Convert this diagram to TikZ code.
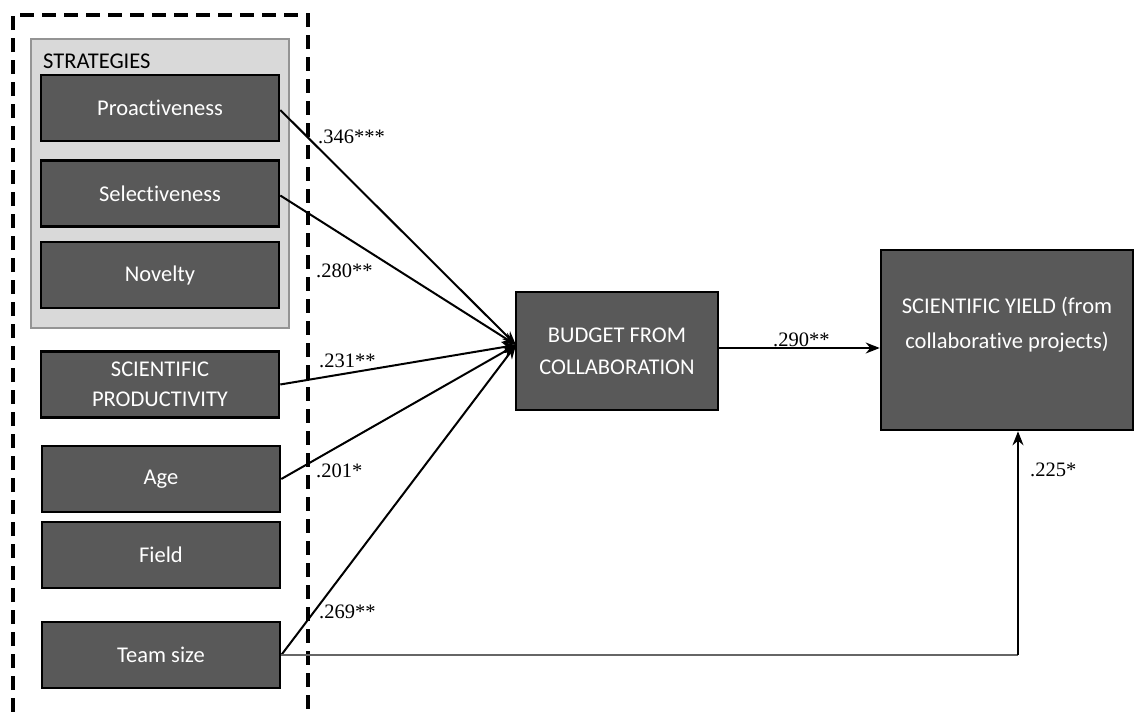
\documentclass[tikz,border=0pt]{standalone}
\usepackage{fontspec}
\setmainfont{Carlito}[Ligatures=NoCommon]
\newfontfamily\labfont{Liberation Serif}
\usetikzlibrary{arrows.meta}
\begin{document}
\begin{tikzpicture}[x=1pt,y=-1pt,
  varbox/.style={draw=black, line width=2.6pt, fill=boxgray, text=white, font=\fontsize{22.5}{32}\selectfont, align=center, inner sep=0pt, minimum width=#1, minimum height=66pt},
  varbox/.default=238pt,
  coef/.style={font=\labfont\fontsize{20.5}{22}\selectfont, anchor=west, inner sep=0pt},
  path/.style={line width=2pt, -{Stealth[length=14pt,width=11pt]}},
  thinpath/.style={line width=1.2pt, draw=black!60},
]
\definecolor{boxgray}{HTML}{595959}
\useasboundingbox (0,0) rectangle (1144,712);
% dashed outer frame
\draw[line width=3.5pt, dash pattern=on 14pt off 8pt] (13,712) -- (13,15) -- (308,15) -- (308,712);
% strategies group
\node[draw=black!42, line width=2.5pt, fill=black!15, minimum width=258pt, minimum height=289pt, inner sep=0pt] (strat) at (160,183.5) {};
\node[anchor=west, font=\fontsize{22.5}{27}\selectfont, inner sep=0pt] (stratlab) at (43,61) {STRATEGIES};
\node[varbox] (pro) at (160,108) {Proactiveness};
\node[varbox] (sel) at (160,193.5) {Selectiveness};
\node[varbox] (nov) at (160,275) {Novelty};
\node[varbox, font=\fontsize{22.5}{30}\selectfont] (prod) at (160,384.5) {SCIENTIFIC\\PRODUCTIVITY};
\node[varbox] (age) at (161,479) {Age};
\node[varbox] (field) at (161,555) {Field};
\node[varbox] (team) at (161,655) {Team size};
\node[varbox=202pt, minimum height=118pt] (bud) at (617,351) {BUDGET FROM\\COLLABORATION};
\node[varbox=252pt, minimum height=180pt, font=\fontsize{22.5}{35}\selectfont] (yield) at (1007,340) {SCIENTIFIC YIELD (from\\collaborative projects)\\[0pt]};
\coordinate (hub) at (516,345);
\coordinate (corner) at (1018,655);
% paths
\draw[path] (pro.east) ++(0,2) -- (hub);
\draw[path] (sel.east) ++(0,2) -- (hub);
\draw[path] (prod.east) -- (hub);
\draw[path] (age.east) -- (hub);
\draw[path] (team.east) -- (hub);
\draw[path] (bud.east) ++(0,-3) -- (yield.west |- 0,348);
\draw[thinpath] (team.east) -- (corner);
\draw[line width=2pt, -{Stealth[length=14pt,width=11pt]}] (corner) -- (yield.south -| corner);
% labels
\node[coef] (c1) at (318,137) {.346***};
\node[coef] (c2) at (316,271) {.280**};
\node[coef] (c3) at (319,361) {.231**};
\node[coef] (c4) at (316,471) {.201*};
\node[coef] (c5) at (319,612) {.269**};
\node[coef] (c6) at (773,340) {.290**};
\node[coef] (c7) at (1030,470) {.225*};
\end{tikzpicture}
\end{document}
